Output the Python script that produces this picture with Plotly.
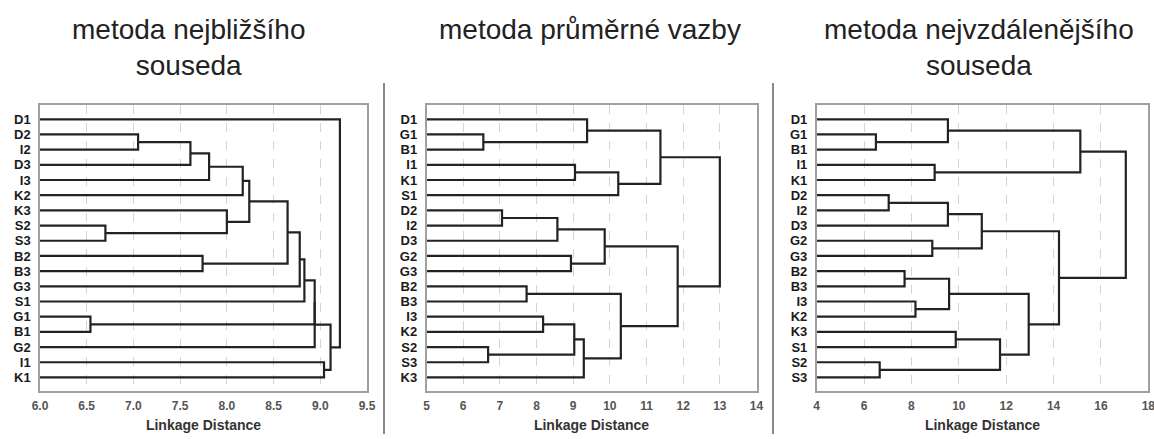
import plotly.graph_objects as go

# ---------------- data ----------------
TITLES = ["metoda nejbližšího<br>souseda", "metoda průměrné vazby", "metoda nejvzdálenějšího<br>souseda"]
AXIS_TITLE = "Linkage Distance"

# panel 1: single linkage (nearest neighbour)
P1_LEAVES = ["D1", "D2", "I2", "D3", "I3", "K2", "K3", "S2", "S3", "B2", "B3", "G3", "S1", "G1", "B1", "G2", "I1", "K1"]
# (child a, child b, height); int = index of an earlier merge
P1_MERGES = [("D2", "I2", 7.05), (0, "D3", 7.61), (1, "I3", 7.81), (2, "K2", 8.17),
             ("S2", "S3", 6.70), ("K3", 4, 8.00), (3, 5, 8.24), ("B2", "B3", 7.74),
             (6, 7, 8.65), (8, "G3", 8.78), (9, "S1", 8.83), ("G1", "B1", 6.54),
             (10, 11, 8.94), (12, "G2", 8.94), ("I1", "K1", 9.04), (13, 14, 9.11),
             ("D1", 15, 9.21)]
P1_RANGE = [6.0, 9.5]
P1_DTICK = 0.5

# panel 2: average linkage
P2_LEAVES = ["D1", "G1", "B1", "I1", "K1", "S1", "D2", "I2", "D3", "G2", "G3", "B2", "B3", "I3", "K2", "S2", "S3", "K3"]
P2_MERGES = [("G1", "B1", 6.55), ("D1", 0, 9.38), ("I1", "K1", 9.05), (2, "S1", 10.23),
             (1, 3, 11.38), ("D2", "I2", 7.06), (5, "D3", 8.57), ("G2", "G3", 8.94),
             (6, 7, 9.86), ("B2", "B3", 7.73), ("I3", "K2", 8.18), ("S2", "S3", 6.68),
             (10, 11, 9.03), (12, "K3", 9.29), (9, 13, 10.30), (8, 14, 11.85),
             (4, 15, 13.00)]
P2_RANGE = [5, 14]
P2_DTICK = 1

# panel 3: complete linkage (furthest neighbour)
P3_LEAVES = ["D1", "G1", "B1", "I1", "K1", "D2", "I2", "D3", "G2", "G3", "B2", "B3", "I3", "K2", "K3", "S1", "S2", "S3"]
P3_MERGES = [("G1", "B1", 6.50), ("D1", 0, 9.54), ("I1", "K1", 8.98), (1, 2, 15.13),
             ("D2", "I2", 7.04), (4, "D3", 9.54), ("G2", "G3", 8.88), (5, 6, 10.97),
             ("B2", "B3", 7.71), ("I3", "K2", 8.17), (8, 9, 9.59), ("K3", "S1", 9.87),
             ("S2", "S3", 6.66), (11, 12, 11.74), (10, 13, 12.95), (7, 14, 14.23),
             (3, 15, 17.05)]
P3_RANGE = [4, 18]
P3_DTICK = 2

PANELS = [(P1_LEAVES, P1_MERGES, P1_RANGE, P1_DTICK, ".1f"),
          (P2_LEAVES, P2_MERGES, P2_RANGE, P2_DTICK, "d"),
          (P3_LEAVES, P3_MERGES, P3_RANGE, P3_DTICK, "d")]

# ---------------- layout geometry ----------------
W, H = 1154, 439
X_DOMAINS = [(40, 367), (426.5, 756.5), (816.7, 1148.3)]
Y_TOP, Y_BOT = 105, 390.5
TITLE_X = [188, 590, 979]
SEPARATORS = [384, 773]

LINE_COLOR = "#222222"
BOX_COLOR = "#a0a0a0"
GRID_COLOR = "#d4d4d4"
FONT = "Liberation Sans, Arial, sans-serif"


def segments(leaves, merges, xmin):
    pos = {}
    for i, name in enumerate(leaves):
        pos[name] = (xmin, i)
    nodes = []
    xs, ys = [], []

    def get(c):
        return nodes[c] if isinstance(c, int) else pos[c]

    for a, b, h in merges:
        xa, ya = get(a)
        xb, yb = get(b)
        xs += [xa, h, h, xb, None]
        ys += [ya, ya, yb, yb, None]
        nodes.append((h, (ya + yb) / 2))
    return xs, ys


fig = go.Figure()
layout = dict(width=W, height=H, margin=dict(l=0, r=0, t=0, b=0, autoexpand=False),
              paper_bgcolor="white", plot_bgcolor="white", showlegend=False,
              font=dict(family=FONT))
ydom = [1 - Y_BOT / H, 1 - Y_TOP / H]
n = len(P1_LEAVES)

for k, (leaves, merges, rng, dt, fmt) in enumerate(PANELS):
    sfx = "" if k == 0 else str(k + 1)
    xs, ys = segments(leaves, merges, rng[0])
    fig.add_trace(go.Scatter(x=xs, y=ys, mode="lines", xaxis="x" + sfx, yaxis="y" + sfx,
                             line=dict(color=LINE_COLOR, width=2.2), hoverinfo="skip"))
    d0, d1 = X_DOMAINS[k]
    layout["xaxis" + sfx] = dict(
        domain=[d0 / W, d1 / W], range=rng, dtick=dt, tick0=rng[0], tickformat=fmt,
        anchor="y" + sfx, showline=True, linecolor=BOX_COLOR, linewidth=1.5, mirror=True,
        showgrid=True, gridcolor=GRID_COLOR, griddash="dash", gridwidth=1, zeroline=False,
        ticks="", ticklabelstandoff=3, automargin=False, ticklabeloverflow="allow",
        tickfont=dict(size=12, color="#555555", family=FONT, weight="bold"),
        title=dict(text=AXIS_TITLE, standoff=9,
                   font=dict(size=14, color="#333333", family=FONT, weight="bold")))
    layout["yaxis" + sfx] = dict(
        domain=ydom, range=[n - 1 + 0.86, -0.94], anchor="x" + sfx,
        tickmode="array", tickvals=list(range(n)), ticktext=leaves,
        showline=True, linecolor=BOX_COLOR, linewidth=1.5, mirror=True,
        showgrid=False, zeroline=False, ticks="", ticklabelstandoff=5, automargin=False,
        tickfont=dict(size=13, color="#1a1a1a", family=FONT, weight="bold"))

annotations = []
for k, t in enumerate(TITLES):
    annotations.append(dict(text=t, x=TITLE_X[k] / W, y=1 - 12 / H, xref="paper", yref="paper",
                            xanchor="center", yanchor="top", showarrow=False,
                            font=dict(size=28, color="#222222", family=FONT)))
layout["annotations"] = annotations
layout["shapes"] = [dict(type="line", xref="paper", yref="paper", x0=sx / W, x1=sx / W,
                         y0=1 - 434 / H, y1=1 - 83 / H, line=dict(color="#8a8a8a", width=2))
                    for sx in SEPARATORS]
fig.update_layout(**layout)
fig.write_html("out.html", config={"displayModeBar": False},
               post_script="document.body.style.margin='0px';document.body.style.overflow='hidden';")
